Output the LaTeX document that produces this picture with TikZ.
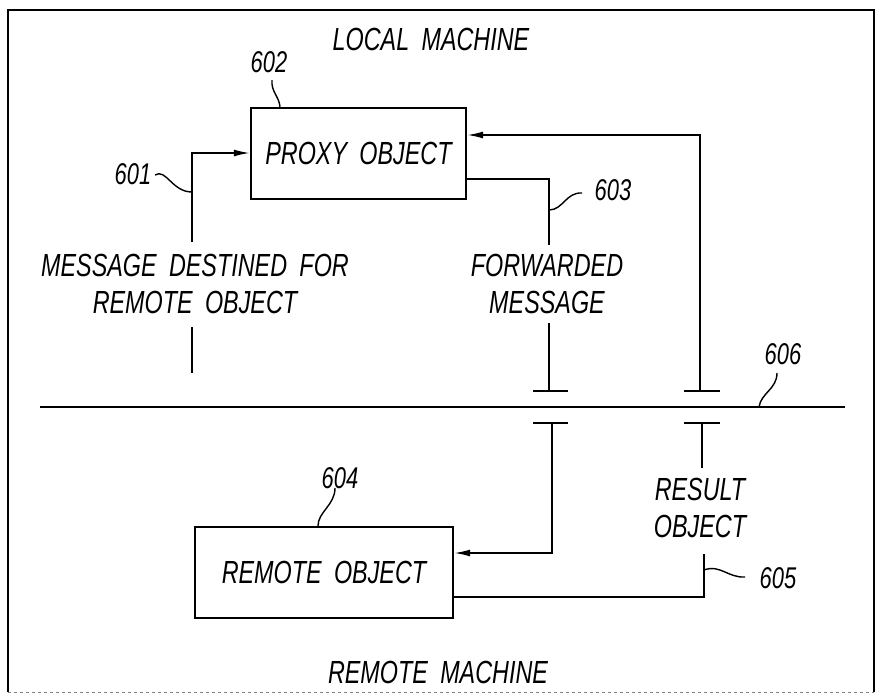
\documentclass[tikz,border=0pt]{standalone}
\usepackage{fontspec}
\setmainfont{Liberation Sans}[FakeStretch=0.73, WordSpace=1.9]
\usetikzlibrary{arrows.meta}
\begin{document}
\begin{tikzpicture}[x=1pt,y=-1pt,
  txt/.style={font=\fontsize{32}{37}\selectfont\itshape, inner sep=0pt, align=center},
  num/.style={font=\fontsize{30}{34}\selectfont\itshape, inner sep=0pt},
  objbox/.style={draw, line width=2.4pt, inner sep=0pt, font=\fontsize{32}{37}\selectfont\itshape},
  conn/.style={line width=1.6pt},
  lead/.style={line width=1.4pt},
  arr/.style={-{Latex[length=16pt,width=7pt]}},
  tbar/.style={line width=1.8pt}]
\useasboundingbox (0,0) rectangle (878,697);
% frame
\draw[line width=1.4pt] (8,692) -- (8,10) -- (874,10) -- (874,692);
\draw[line width=0.8pt, gray, dashed] (8,692) -- (874,692);
% titles
\node[txt] (local) at (431,39) {LOCAL MACHINE};
\node[txt] (remmach) at (438,672) {REMOTE MACHINE};
% boxes
\node[objbox, minimum width=215pt, minimum height=91pt] (proxy) at (358.5,153.5) {PROXY OBJECT};
\node[objbox, minimum width=258pt, minimum height=91pt] (remote) at (324,572.5) {REMOTE OBJECT};
% labels
\node[txt] (msg) at (195,284) {MESSAGE DESTINED FOR\\REMOTE OBJECT};
\node[txt] (fwd) at (547,284) {FORWARDED\\MESSAGE};
\node[txt] (res) at (700,508) {RESULT\\OBJECT};
\node[num] (n601) at (133,174) {601};
\node[num] (n602) at (269,62) {602};
\node[num] (n603) at (613,190) {603};
\node[num] (n604) at (340,478) {604};
\node[num] (n605) at (778,578) {605};
\node[num] (n606) at (783,354) {606};
% network line 606
\coordinate (netL) at (40,407);
\coordinate (netR) at (845,407);
\draw[line width=1.8pt] (netL) -- (netR);
% message 601
\coordinate (m1top) at (192,242);
\coordinate (m1a) at (192,327);
\coordinate (m1b) at (192,373);
\coordinate (inY) at (0,153);
\draw[conn,arr] (m1top) |- (proxy.west |- inY);
\draw[conn] (m1a) -- (m1b);
% forwarded 603
\coordinate (fwdY) at (0,179);
\coordinate (f1) at (549,245);
\coordinate (f2) at (549,323);
\coordinate (f3) at (549,391);
\draw[conn] (proxy.east |- fwdY) -| (f1);
\draw[conn] (f2) -- (f3);
\draw[tbar] (533,391) -- (568,391);
\draw[tbar] (533,423) -- (568,423);
\coordinate (f4) at (552,423);
\coordinate (rinY) at (0,553);
\draw[conn,arr] (f4) |- (remote.east |- rinY);
% return path
\coordinate (r1) at (700,391);
\coordinate (retY) at (0,135);
\draw[conn,arr] (r1) |- (proxy.east |- retY);
\draw[tbar] (684,391) -- (720,391);
\draw[tbar] (684,423) -- (720,423);
\coordinate (r2) at (702,423);
\coordinate (r3) at (702,468);
\draw[conn] (r2) -- (r3);
\coordinate (r4) at (704,554);
\coordinate (routY) at (0,597);
\draw[conn] (r4) |- (remote.east |- routY);
% leaders
\coordinate (l602a) at (272,80);
\draw[lead] (l602a) .. controls (271,92) and (279,96) .. (proxy.north -| 280,0);
\coordinate (l601a) at (155,175);
\coordinate (l601b) at (192,192);
\draw[lead] (l601a) .. controls (166,168) and (172,192) .. (l601b);
\coordinate (l603a) at (549,210);
\coordinate (l603b) at (582,193);
\draw[lead] (l603a) .. controls (563,210) and (566,192) .. (l603b);
\coordinate (l604a) at (335,488);
\draw[lead] (remote.north -| 318,0) .. controls (318,512) and (335,505) .. (l604a);
\coordinate (l605a) at (704,570);
\coordinate (l605b) at (745,577);
\draw[lead] (l605a) .. controls (720,564) and (728,578) .. (l605b);
\coordinate (l606a) at (759,407);
\coordinate (l606b) at (777,373);
\draw[lead] (l606a) .. controls (761,393) and (777,389) .. (l606b);
\end{tikzpicture}
\end{document}
